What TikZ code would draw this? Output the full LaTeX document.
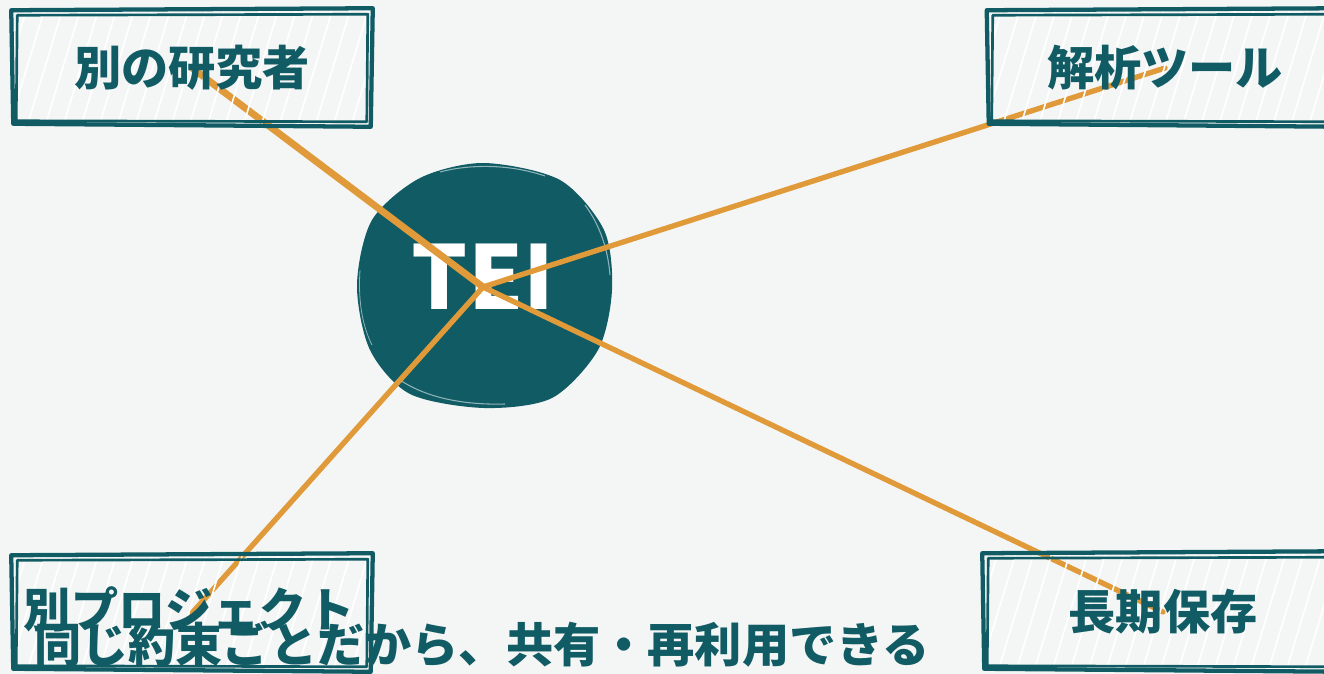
\documentclass[tikz,border=0pt]{standalone}
\usepackage{fontspec}
\newfontfamily\jp{Noto Sans CJK JP}
\usetikzlibrary{calc}
\definecolor{bg}{HTML}{F4F6F5}
\definecolor{teal}{HTML}{105B64}
\definecolor{orng}{HTML}{E09A3A}
\definecolor{rim}{HTML}{8FB3B7}
\tikzset{
  boxnode/.style={minimum width=355*0.75pt, minimum height=113*0.75pt, inner sep=0pt,
    text=teal, font=\jp\bfseries\fontsize{35.4pt}{37pt}\selectfont},
  boxline/.style={draw=teal, line width=3.2pt, line join=round, line cap=round},
  boxline2/.style={draw=teal, line width=2pt, line join=round, line cap=round},
  hach/.style={draw=white, line width=1.2pt, line cap=round},
  link/.style={draw=orng, line width=4pt, line cap=round},
  caption/.style={text=teal, inner sep=0pt, font=\jp\bfseries\fontsize{35.4pt}{37pt}\selectfont},
  teitext/.style={text=white, inner sep=0pt, font=\jp\bfseries\fontsize{66pt}{70pt}\selectfont}
}
\newcommand{\hachbox}[1]{%
  \begin{scope}
    \clip (#1.north west) rectangle (#1.south east);
    \foreach \k in {-60,-42,...,420} {
      \draw[hach] ($(#1.south west)+(\k,4)$) -- ++(38,-125);
    }
  \end{scope}}
\newcommand{\sketchbox}[1]{%
  \draw[boxline] ($(#1.north west)+(-3,-1)$) -- ($(#1.north east)+(3,-3)$) -- ($(#1.south east)+(1,2)$) -- ($(#1.south west)+(-1,-1)$) -- cycle;
  \draw[boxline2] ($(#1.north west)+(3,4)$) -- ($(#1.north east)+(-2,3)$) -- ($(#1.south east)+(-3,-3)$) -- ($(#1.south west)+(2,-4)$) -- cycle;}
\begin{document}
\begin{tikzpicture}[x=0.75pt,y=-0.75pt]
  \fill[bg] (0,0) rectangle (1324,674);
  \useasboundingbox (0,0) rectangle (1324,674);
  % central blob
  \fill[teal] plot[smooth cycle] coordinates {(484,163) (560,180) (604,230) (612,290) (598,350) (552,398) (484,408) (410,394) (370,350) (357,285) (372,220) (420,178)};
  \draw[rim, line width=0.8pt] (440,172) .. controls (470,164) and (510,164) .. (545,176);
  \draw[rim, line width=0.8pt] (585,205) .. controls (600,225) and (608,250) .. (610,275);
  \draw[rim, line width=0.8pt] (400,380) .. controls (430,400) and (470,405) .. (505,404);
  \draw[rim, line width=0.6pt] (360,270) .. controls (358,300) and (362,325) .. (372,345);
  \node[teitext] (tei) at (483,277) {TEI};
  \coordinate (hub) at (483,287);
  % boxes (positions)
  \node[boxnode] (b1) at (192,68) {};
  \node[boxnode, minimum width=350*0.75pt] (b2) at (1165,68) {};
  \node[boxnode] (b3) at (192,613) {};
  \node[boxnode, minimum height=115*0.75pt] (b4) at (1163,612) {};
  % connectors
  \draw[link, line width=5.2pt] (hub) -- (b1.center);
  \draw[link] (hub) -- (b2.center);
  \draw[link] (hub) -- (b3.center);
  \draw[link] (hub) -- (b4.center);
  % hachure and borders
  \hachbox{b1}\hachbox{b2}\hachbox{b3}\hachbox{b4}
  \sketchbox{b1}\sketchbox{b2}\sketchbox{b3}\sketchbox{b4}
  % labels
  \node[caption] (t1) at (b1.center) {別の研究者};
  \node[caption] (t2) at (b2.center) {解析ツール};
  \node[caption] (t3) at ($(b3.center)+(-3,-4)$) {別プロジェクト};
  \node[caption] (t4) at (b4.center) {長期保存};
  \node[caption] (cap) at (482,644) {同じ約束ごとだから、共有・再利用できる};
\end{tikzpicture}
\end{document}
